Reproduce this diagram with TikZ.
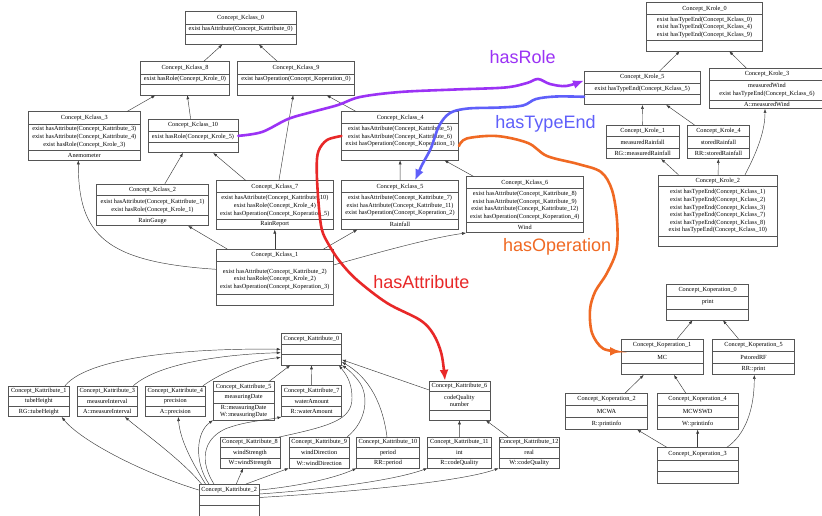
\documentclass[tikz,border=0pt]{standalone}
\usepackage{fontspec}
\usetikzlibrary{arrows.meta,fit}
\newfontfamily\boxfont{Liberation Serif}
\newfontfamily\labelfont{Liberation Sans}
\definecolor{rolec}{RGB}{155,50,245}
\definecolor{typec}{RGB}{95,95,250}
\definecolor{opc}{RGB}{240,105,35}
\definecolor{attrc}{RGB}{232,40,40}
\definecolor{framec}{RGB}{85,85,85}
\definecolor{edgec}{RGB}{60,60,60}
\tikzset{
  boxline/.style={draw=framec, line width=0.5pt},
  boxtext/.style={font=\boxfont\fontsize{6.25}{7.6}\selectfont, align=center, inner sep=0pt},
  edge/.style={draw=edgec, line width=0.45pt, -{Latex[length=4pt,width=3pt]}},
  fat/.style={line width=2.6pt, line cap=round, -{Latex[length=11pt,width=9pt]}},
  lbl/.style={font=\labelfont\fontsize{18}{20}\selectfont, inner sep=0pt, anchor=base}
}
% class box: name, left, top, right, bottom, first divider, second divider
\newcommand\umlbox[7]{%
  \coordinate (#1-a) at (#2,#3);
  \coordinate (#1-b) at (#4,#5);
  \node[boxline, fit=(#1-a)(#1-b), inner sep=0pt] (#1) {};
  \draw[boxline] (#2,#6) -- (#4,#6) (#2,#7) -- (#4,#7);
  \coordinate (#1-t) at ({(#2+#4)/2},{(#3+#6)/2});
  \coordinate (#1-m) at ({(#2+#4)/2},{(#6+#7)/2});
  \coordinate (#1-o) at ({(#2+#4)/2},{(#7+#5)/2});
}
% the three compartments: name, title, attributes, operations
\newcommand\umltext[4]{%
  \node[boxtext] at (#1-t) {#2};
  \node[boxtext] at (#1-m) {#3};
  \node[boxtext] at (#1-o) {#4};
}
\begin{document}
\begin{tikzpicture}[x=1pt,y=-1pt]
\fill[white] (0,0) rectangle (822,515);
\useasboundingbox (0,0) rectangle (822,515);

% ---------- Kclass boxes ----------
\umlbox{kc0}{185}{11.7}{296.3}{44.3}{24}{34}
\umltext{kc0}{Concept\_Kclass\_0}{exist hasAttribute(Concept\_Kattribute\_0)}{}
\umlbox{kc8}{140.3}{61.7}{229.7}{95}{74}{84.3}
\umltext{kc8}{Concept\_Kclass\_8}{exist hasRole(Concept\_Krole\_0)}{}
\umlbox{kc9}{237.7}{61.7}{354.3}{95}{74}{84.3}
\umltext{kc9}{Concept\_Kclass\_9}{exist hasOperation(Concept\_Koperation\_0)}{}
\umlbox{kc3}{28.3}{111.7}{140.3}{160}{124}{150}
\umltext{kc3}{Concept\_Kclass\_3}{exist hasAttribute(Concept\_Kattribute\_3)\\exist hasAttribute(Concept\_Kattribute\_4)\\exist hasRole(Concept\_Krole\_3)}{Anemometer}
\umlbox{kc10}{148}{119}{238}{152.7}{131.7}{142.3}
\umltext{kc10}{Concept\_Kclass\_10}{exist hasRole(Concept\_Krole\_5)}{}
\umlbox{kc4}{341.7}{111.7}{458.7}{160}{123.3}{150}
\umltext{kc4}{Concept\_Kclass\_4}{exist hasAttribute(Concept\_Kattribute\_5)\\exist hasAttribute(Concept\_Kattribute\_6)\\exist hasOperation(Concept\_Koperation\_1)}{}
\umlbox{kc2}{96.7}{184}{208.3}{225.7}{195.7}{215.7}
\umltext{kc2}{Concept\_Kclass\_2}{exist hasAttribute(Concept\_Kattribute\_1)\\exist hasRole(Concept\_Krole\_1)}{RainGauge}
\umlbox{kc7}{216.3}{180.7}{333.3}{229.3}{192.7}{219.3}
\umltext{kc7}{Concept\_Kclass\_7}{exist hasAttribute(Concept\_Kattribute\_10)\\exist hasRole(Concept\_Krole\_4)\\exist hasOperation(Concept\_Koperation\_5)}{RainReport}
\umlbox{kc5}{341.7}{180.7}{458.3}{229.3}{192.3}{219.3}
\umltext{kc5}{Concept\_Kclass\_5}{exist hasAttribute(Concept\_Kattribute\_7)\\exist hasAttribute(Concept\_Kattribute\_11)\\exist hasOperation(Concept\_Koperation\_2)}{Rainfall}
\umlbox{kc6}{466.3}{176.7}{583.3}{232.7}{188.3}{222.7}
\umltext{kc6}{Concept\_Kclass\_6}{exist hasAttribute(Concept\_Kattribute\_8)\\exist hasAttribute(Concept\_Kattribute\_9)\\exist hasAttribute(Concept\_Kattribute\_12)\\exist hasOperation(Concept\_Koperation\_4)}{Wind}
\umlbox{kc1}{216.3}{249.3}{333.3}{305}{261}{294.5}
\umltext{kc1}{Concept\_Kclass\_1}{\mbox{}\\exist hasAttribute(Concept\_Kattribute\_2)\\exist hasRole(Concept\_Krole\_2)\\exist hasOperation(Concept\_Koperation\_3)}{}

% ---------- Krole boxes ----------
\umlbox{kr0}{646.3}{2.7}{762.7}{51}{14.3}{40}
\umltext{kr0}{Concept\_Krole\_0}{exist hasTypeEnd(Concept\_Kclass\_0)\\exist hasTypeEnd(Concept\_Kclass\_4)\\exist hasTypeEnd(Concept\_Kclass\_9)}{}
\umlbox{kr5}{584.3}{71.3}{700.3}{104.7}{83.3}{94.3}
\umltext{kr5}{Concept\_Krole\_5}{exist hasTypeEnd(Concept\_Kclass\_5)}{}
\umlbox{kr3}{709}{68.3}{825}{108.7}{80}{100}
\umltext{kr3}{Concept\_Krole\_3}{measuredWind\\exist hasTypeEnd(Concept\_Kclass\_6)}{A::measuredWind}
\umlbox{kr1}{606.3}{125.3}{679}{158.7}{136.7}{148}
\umltext{kr1}{Concept\_Krole\_1}{measuredRainfall}{RG::measuredRainfall}
\umlbox{kr4}{687.7}{125.3}{749.3}{158.7}{136.7}{148}
\umltext{kr4}{Concept\_Krole\_4}{storedRainfall}{RR::storedRainfall}
\umlbox{kr2}{658.3}{175}{777.3}{246.7}{186.7}{236}
\umltext{kr2}{Concept\_Krole\_2}{exist hasTypeEnd(Concept\_Kclass\_1)\\exist hasTypeEnd(Concept\_Kclass\_2)\\exist hasTypeEnd(Concept\_Kclass\_3)\\exist hasTypeEnd(Concept\_Kclass\_7)\\exist hasTypeEnd(Concept\_Kclass\_8)\\exist hasTypeEnd(Concept\_Kclass\_10)}{}

% ---------- Koperation boxes ----------
\umlbox{ko0}{666.7}{284}{748.7}{320}{296}{309}
\umltext{ko0}{Concept\_Koperation\_0}{print}{}
\umlbox{ko1}{621.3}{339}{703}{374.7}{351}{363.3}
\umltext{ko1}{Concept\_Koperation\_1}{MC}{}
\umlbox{ko5}{712.7}{339}{794.3}{374.7}{351}{363.3}
\umltext{ko5}{Concept\_Koperation\_5}{PstoredRF}{RR::print}
\umlbox{ko2}{565.7}{393.3}{647.3}{429.3}{405.3}{417.7}
\umltext{ko2}{Concept\_Koperation\_2}{MCWA}{R::printinfo}
\umlbox{ko4}{657}{393.3}{738.3}{429.3}{405.3}{417.7}
\umltext{ko4}{Concept\_Koperation\_4}{MCWSWD}{W::printinfo}
\umlbox{ko3}{657}{447.7}{738.3}{483.7}{460}{471.7}
\umltext{ko3}{Concept\_Koperation\_3}{}{}

% ---------- Kattribute boxes ----------
\umlbox{ka0}{281}{333.3}{341.7}{365}{344}{354.3}
\umltext{ka0}{Concept\_Kattribute\_0}{}{}
\umlbox{ka1}{8.3}{386}{69.3}{416.7}{396}{406.7}
\umltext{ka1}{Concept\_Kattribute\_1}{tubeHeight}{RG::tubeHeight}
\umlbox{ka3}{77.3}{386}{137.3}{416.7}{396}{406.7}
\umltext{ka3}{Concept\_Kattribute\_3}{measureInterval}{A::measureInterval}
\umlbox{ka4}{145.3}{386}{205.3}{416.7}{396}{406.7}
\umltext{ka4}{Concept\_Kattribute\_4}{precision}{A::precision}
\umlbox{ka5}{213.3}{381.7}{274}{420}{391.7}{403.3}
\umltext{ka5}{Concept\_Kattribute\_5}{measuringDate}{R::measuringDate\\W::measuringDate}
\umlbox{ka7}{281.7}{385}{341.7}{416.7}{396}{406.7}
\umltext{ka7}{Concept\_Kattribute\_7}{waterAmount}{R::waterAmount}
\umlbox{ka6}{429}{381}{490}{420}{391.7}{410}
\umltext{ka6}{Concept\_Kattribute\_6}{codeQuality\\number}{}
\umlbox{ka8}{220}{437.3}{280}{468}{447.3}{458.3}
\umltext{ka8}{Concept\_Kattribute\_8}{windStrength}{W::windStrength}
\umlbox{ka9}{289}{437.3}{349.3}{468}{447.3}{458.3}
\umltext{ka9}{Concept\_Kattribute\_9}{windDirection}{W::windDirection}
\umlbox{ka10}{356.7}{437.3}{419.3}{468}{447.3}{458.3}
\umltext{ka10}{Concept\_Kattribute\_10}{period}{RR::period}
\umlbox{ka11}{427.7}{437.3}{491}{468}{447.3}{458.3}
\umltext{ka11}{Concept\_Kattribute\_11}{int}{R::codeQuality}
\umlbox{ka12}{499}{437.3}{559.3}{468}{447.3}{458.3}
\umltext{ka12}{Concept\_Kattribute\_12}{real}{W::codeQuality}
\umlbox{ka2}{199}{484.3}{259.3}{516}{495}{505}
\umltext{ka2}{Concept\_Kattribute\_2}{}{}

% ---------- class hierarchy ----------
\draw[edge] (kc8) -- (kc0);
\draw[edge] (kc9) -- (kc0);
\draw[edge] (kc3) -- (kc8);
\draw[edge] (kc10) -- (kc8);
\draw[edge] (kc4) -- (kc9);
\draw[edge] (kc7) -- (kc9);
\draw[edge] (kc2) -- (kc10);
\draw[edge] (kc7) -- (kc10);
\draw[edge] (kc1.west |- 0,269.3) .. controls (105,262) and (78.3,235) .. (kc3.south -| 78.3,0);
\draw[edge] (kc1) -- (kc2);
\draw[edge] (kc1) -- (kc7);
\draw[edge] (kc1) -- (kc5);
\draw[edge] (kc1.east |- 0,265) .. controls (380,252) and (430,238) .. (kc6.south west);
\draw[edge] (kc5) -- (kc4);
\draw[edge] (kc6) -- (kc4);

% ---------- role hierarchy ----------
\draw[edge] (kr5) -- (kr0);
\draw[edge] (kr3) -- (kr0);
\draw[edge] (kr1) -- (kr5);
\draw[edge] (kr4) -- (kr5);
\draw[edge] (kr2) -- (kr1);
\draw[edge] (kr2) -- (kr4);
\draw[edge] (kr2.north -| 745,0) .. controls (758,150) and (765,130) .. (kr3.south -| 765,0);

% ---------- operation hierarchy ----------
\draw[edge] (ko1) -- (ko0);
\draw[edge] (ko5) -- (ko0);
\draw[edge] (ko2) -- (ko1);
\draw[edge] (ko4) -- (ko1);
\draw[edge] (ko3) -- (ko2);
\draw[edge] (ko3) -- (ko4);
\draw[edge] (ko3.north -| 726.7,0) .. controls (745,435) and (754.3,410) .. (ko5.south -| 754.3,0);

% ---------- attribute hierarchy ----------
\draw[edge] (ka1.north -| 65,0) .. controls (90,355) and (200,348) .. (ka0.west |- 0,349.3);
\draw[edge] (ka3.north -| 133.3,0) .. controls (160,362) and (230,354) .. (ka0.west |- 0,352.7);
\draw[edge] (ka4.north -| 203,0) .. controls (225,370) and (255,360) .. (ka0.west |- 0,357.5);
\draw[edge] (ka5) -- (ka0);
\draw[edge] (ka7) -- (ka0);
\draw[edge] (ka6) -- (ka0);
\draw[edge] (ka8.north -| 279,0) .. controls (330,426) and (352,420) .. (352,398) .. controls (352,380) and (344,372) .. (ka0.south -| 339,0);
\draw[edge] (ka9.north -| 347,0) .. controls (368,420) and (368,395) .. (360,383) .. controls (354,374) and (346,368) .. (ka0.south east);
\draw[edge] (ka10.north -| 387,0) .. controls (383,405) and (370,378) .. (ka0.east |- 0,362);
\draw[edge] (ka11) -- (ka6);
\draw[edge] (ka12) -- (ka6);
\draw[edge] (ka2.west |- 0,490) .. controls (140,472) and (80,440) .. (ka1.south -| 61.7,0);
\draw[edge] (ka2.north -| 201.5,0) .. controls (182,460) and (140,430) .. (ka3.south -| 125,0);
\draw[edge] (ka2.north -| 205.5,0) .. controls (192,462) and (180,440) .. (ka4.south -| 178.3,0);
\draw[edge] (ka2.north -| 209,0) .. controls (194,462) and (196,432) .. (ka5.south west);
\draw[edge] (ka2.north -| 214,0) .. controls (200,462) and (202,440) .. (225,429) .. controls (245,421) and (268,420) .. (ka7.south west);
\draw[edge] (ka2) -- (ka8);
\draw[edge] (ka2.north -| 246,0) -- (ka9.south west);
\draw[edge] (ka2.east |- 0,490) .. controls (300,486) and (335,478) .. (ka10.south west);
\draw[edge] (ka2.east |- 0,494) .. controls (330,489) and (395,480) .. (ka11.south west);
\draw[edge] (ka2.east |- 0,497.5) .. controls (350,492) and (460,482) .. (ka12.south west);

% ---------- relation arrows ----------
\draw[fat, draw=rolec] plot[smooth, tension=0.55] coordinates {(kc10.east) (262,132) (288,119) (312,112) (338,105) (360,97) (400,92) (455,89.5) (505,87.5) (527,83) (538,79) (550,84) (566,86) (kr5.west |- 0,80.5)};
\draw[fat, draw=typec] plot[smooth, tension=0.55] coordinates {(kr5.west |- 0,96.8) (556,96.5) (536,99) (523,105.5) (500,107.5) (468,108.5) (450,113) (439,126) (431,148) (422,165) (kc5.north -| 415,0)};
\draw[fat, draw=opc] plot[smooth, tension=0.55] coordinates {(kc4.east |- 0,146) (466.7,138.5) (496.7,136) (528,143) (547,156) (578,164) (601,172) (612,190) (617,220) (616.5,250) (607,273) (595,292) (590,310) (592,333) (603,348.5) (ko1.west |- 0,351.5)};
\draw[fat, draw=attrc] plot[smooth, tension=0.55] coordinates {(kc4.west |- 0,136) (327,140) (318.5,151) (316.7,168) (318.3,200) (321.7,229) (329,245) (340,261.7) (357,280) (387,303) (420,320) (433.3,334) (441.5,354) (ka6.north -| 445,0)};

\node[lbl, text=rolec] (lrole) at (522.7,63.5) {hasRole};
\node[lbl, text=typec] (ltype) at (545.5,128.3) {hasTypeEnd};
\node[lbl, text=opc] (lop) at (557.2,251.7) {hasOperation};
\node[lbl, text=attrc] (lattr) at (421.3,288.3) {hasAttribute};
\end{tikzpicture}
\end{document}
